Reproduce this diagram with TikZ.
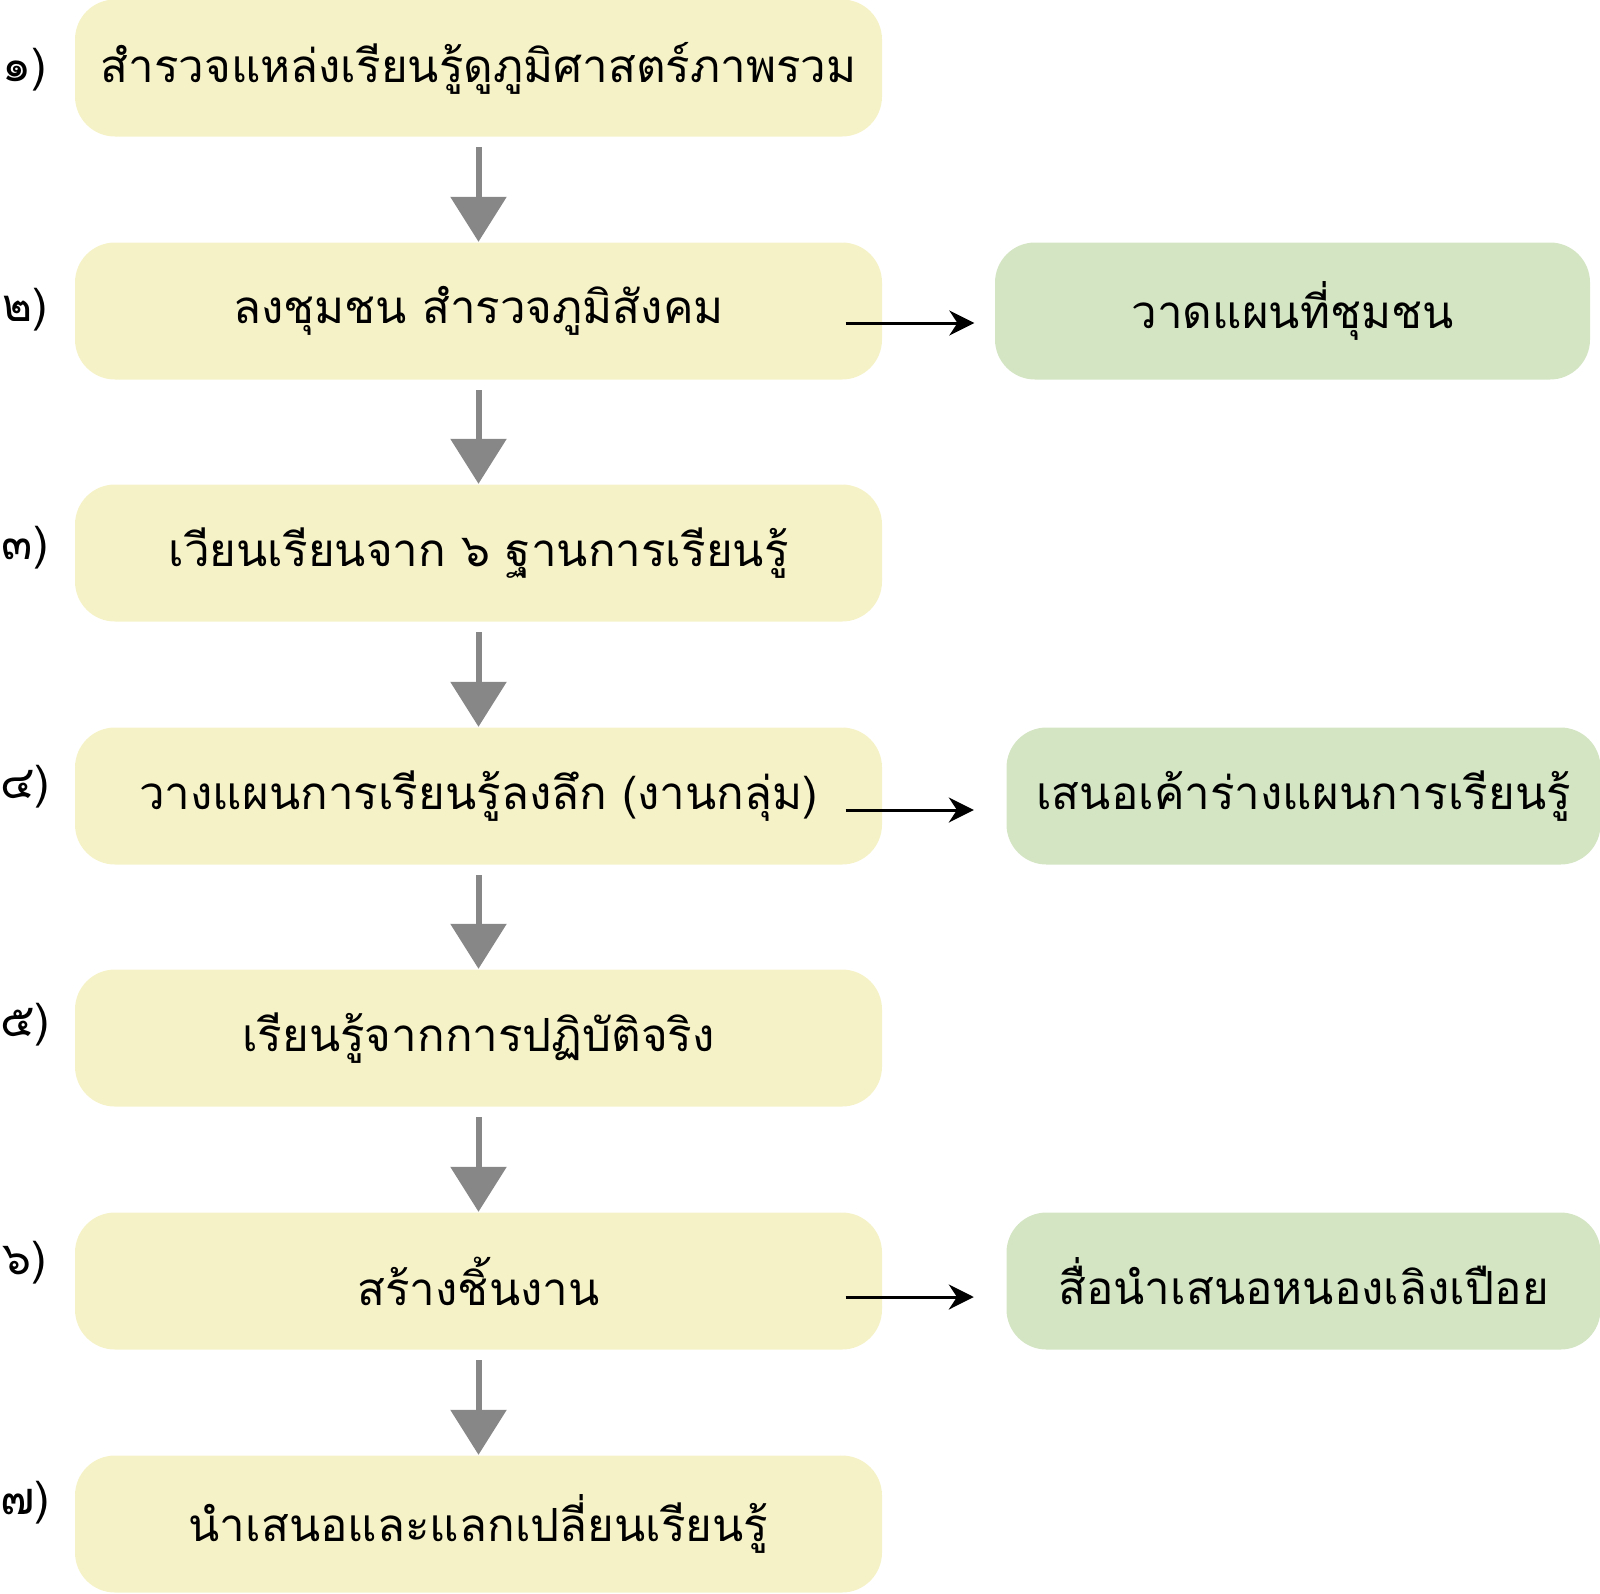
\documentclass[tikz,border=0pt]{standalone}
\usepackage{fontspec}
\newfontfamily\thaifont[Script=Thai]{Loma}
\usetikzlibrary{arrows.meta,calc,positioning}
\definecolor{stepyellow}{HTML}{F5F2C8}
\definecolor{sidegreen}{HTML}{D4E5C4}
\definecolor{arrowgray}{HTML}{878787}
\tikzset{
	stepbox/.style = {
			rectangle, rounded corners=0.4cm,
			fill = stepyellow, inner sep=0pt,
			minimum width=8.07cm, minimum height=1.37cm,
			font=\thaifont\fontsize{13}{16}\selectfont,
		},
	sidebox/.style = {
			rectangle, rounded corners=0.4cm,
			fill = sidegreen, inner sep=0pt,
			minimum width=5.94cm, minimum height=1.37cm,
			font=\thaifont\fontsize{13}{16}\selectfont,
		},
	numlabel/.style = {font=\thaifont\fontsize{13}{16}\selectfont},
	downarrow/.style = {draw=arrowgray, line width=0.06cm, -{Triangle[width=0.55cm,length=0.45cm]}},
	sidearrow/.style = {draw=black, line width=0.03cm, -{Stealth[width=0.25cm,length=0.25cm]}},
}
\begin{document}
\begin{tikzpicture}
				\useasboundingbox (0,0) rectangle (16,-15.93);
				% Steps
				\node[stepbox] (s1) at (4.785,-0.68) {สำรวจแหล่งเรียนรู้ดูภูมิศาสตร์ภาพรวม};
				\node[stepbox] (s2) at (4.785,-3.11) {ลงชุมชน สำรวจภูมิสังคม};
				\node[stepbox] (s3) at (4.785,-5.53) {เวียนเรียนจาก ๖ ฐานการเรียนรู้};
				\node[stepbox] (s4) at (4.785,-7.96) {วางแผนการเรียนรู้ลงลึก (งานกลุ่ม)};
				\node[stepbox] (s5) at (4.785,-10.38) {เรียนรู้จากการปฏิบัติจริง};
				\node[stepbox] (s6) at (4.785,-12.81) {สร้างชิ้นงาน};
				\node[stepbox] (s7) at (4.785,-15.24) {นำเสนอและแลกเปลี่ยนเรียนรู้};

				% Numbers
				\node[numlabel] (n1) at (0.25,-0.70) {๑)};
				\node[numlabel] (n2) at (0.25,-3.10) {๒)};
				\node[numlabel] (n3) at (0.25,-5.48) {๓)};
				\node[numlabel] (n4) at (0.25,-7.87) {๔)};
				\node[numlabel] (n5) at (0.25,-10.25) {๕)};
				\node[numlabel] (n6) at (0.25,-12.63) {๖)};
				\node[numlabel] (n7) at (0.25,-15.03) {๗)};

				% Outputs
				\node[sidebox, minimum width=5.95cm] (g2) at (12.925,-3.11) {วาดแผนที่ชุมชน};
				\node[sidebox] (g4) at (13.035,-7.96) {เสนอเค้าร่างแผนการเรียนรู้};
				\node[sidebox] (g6) at (13.035,-12.81) {สื่อนำเสนอหนองเลิงเปือย};

				% Step connections
				\draw[downarrow] ($(s1.south)+(0,-0.1)$) -- (s2.north);
				\draw[downarrow] ($(s2.south)+(0,-0.1)$) -- (s3.north);
				\draw[downarrow] ($(s3.south)+(0,-0.1)$) -- (s4.north);
				\draw[downarrow] ($(s4.south)+(0,-0.1)$) -- (s5.north);
				\draw[downarrow] ($(s5.south)+(0,-0.1)$) -- (s6.north);
				\draw[downarrow] ($(s6.south)+(0,-0.1)$) -- (s7.north);

				% Output connections
				\draw[sidearrow] ($(s2.east)+(-0.37,-0.12)$) -- ($(g2.west)+(-0.2,-0.12)$);
				\draw[sidearrow] ($(s4.east)+(-0.37,-0.14)$) -- ($(g4.west)+(-0.32,-0.14)$);
				\draw[sidearrow] ($(s6.east)+(-0.37,-0.16)$) -- ($(g6.west)+(-0.32,-0.16)$);
\end{tikzpicture}
\end{document}
